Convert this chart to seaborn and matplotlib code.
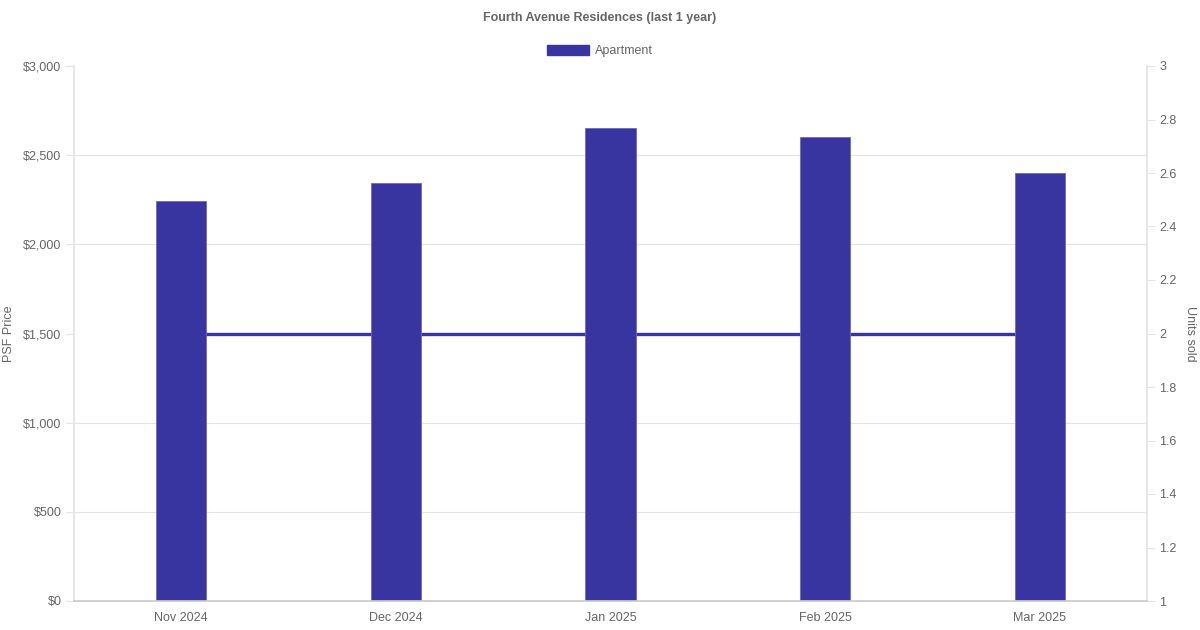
import matplotlib
matplotlib.use("Agg")
import matplotlib.pyplot as plt
import seaborn as sns
from matplotlib.ticker import FuncFormatter, MultipleLocator, FixedLocator
from matplotlib.patches import Patch

months = ["Nov 2024", "Dec 2024", "Jan 2025", "Feb 2025", "Mar 2025"]
psf_price = [2243, 2345, 2652, 2603, 2400]
units_sold = [2, 2, 2, 2, 2]

bar_color = "#3834a0"
text_color = "#666666"
grid_color = "#e4e4e4"

sns.set_theme(style="white")
plt.rcParams["font.family"] = ["Liberation Sans", "DejaVu Sans"]

fig = plt.figure(figsize=(12, 6.3), dpi=100)
ax = fig.add_axes([74 / 1200, 1 - 601 / 630, (1147 - 74) / 1200, (601 - 66) / 630])
ax2 = ax.twinx()

sns.barplot(x=months, y=psf_price, color=bar_color, width=0.233, ax=ax,
            saturation=1, edgecolor="#6e6ac0", linewidth=0.6)
sns.lineplot(x=list(range(len(months))), y=units_sold, color=bar_color, lw=2.4,
             ax=ax2, zorder=3)

# bars above the line
ax.set_zorder(ax2.get_zorder() + 1)
ax.patch.set_visible(False)

ax.set_xlim(-0.5, len(months) - 0.5)
ax.set_ylim(0, 3000)
ax.yaxis.set_major_locator(MultipleLocator(500))
ax.yaxis.set_major_formatter(FuncFormatter(lambda v, p: f"${v:,.0f}"))

ax2.set_ylim(1, 3)
ax2.yaxis.set_major_locator(MultipleLocator(0.2))
ax2.yaxis.set_major_formatter(FuncFormatter(lambda v, p: f"{v:g}"))

# horizontal grid of the price axis, drawn in the lower axes so it stays under the line
lo, hi = ax.get_ylim()
lo2, hi2 = ax2.get_ylim()
grid_pos = [lo2 + (v - lo) / (hi - lo) * (hi2 - lo2) for v in ax.get_yticks()]
ax2.yaxis.set_minor_locator(FixedLocator(grid_pos))
ax2.grid(axis="y", which="minor", color=grid_color, lw=0.8)
ax2.grid(axis="y", which="major", visible=False)
ax2.set_axisbelow(True)
ax2.tick_params(axis="y", which="minor", length=0)

for a in (ax, ax2):
    for s in a.spines.values():
        s.set_visible(False)
ax.spines["left"].set_visible(True)
ax.spines["bottom"].set_visible(True)
ax2.spines["right"].set_visible(True)
ax.spines["left"].set_color(grid_color)
ax.spines["bottom"].set_color("#cccccc")
ax2.spines["right"].set_color(grid_color)

ax.tick_params(axis="y", which="major", length=6, width=0.8, color=grid_color,
               labelsize=9, labelcolor=text_color, pad=3)
ax.tick_params(axis="x", length=0, labelsize=9, labelcolor=text_color, pad=8)
ax2.tick_params(axis="y", which="major", length=6, width=0.8, color=grid_color,
                labelsize=9, labelcolor=text_color, pad=3, right=True)

ax.set_xlabel("")
ax.set_ylabel("PSF Price", color=text_color, fontsize=9, labelpad=6)
ax2.set_ylabel("Units sold", color=text_color, fontsize=9, rotation=270, labelpad=14)

fig.text(0.5, 1 - 18 / 630, "Fourth Avenue Residences (last 1 year)", ha="center",
         va="center", fontsize=9, fontweight="bold", color=text_color)

handle = Patch(facecolor=bar_color, edgecolor=bar_color)
fig.legend(handles=[handle], labels=["Apartment"], loc="center",
           bbox_to_anchor=(0.5, 1 - 51 / 630), frameon=False, fontsize=9,
           labelcolor=text_color, handlelength=3.3, handleheight=0.9,
           handletextpad=0.5)

fig.savefig("out.png", dpi=100)
